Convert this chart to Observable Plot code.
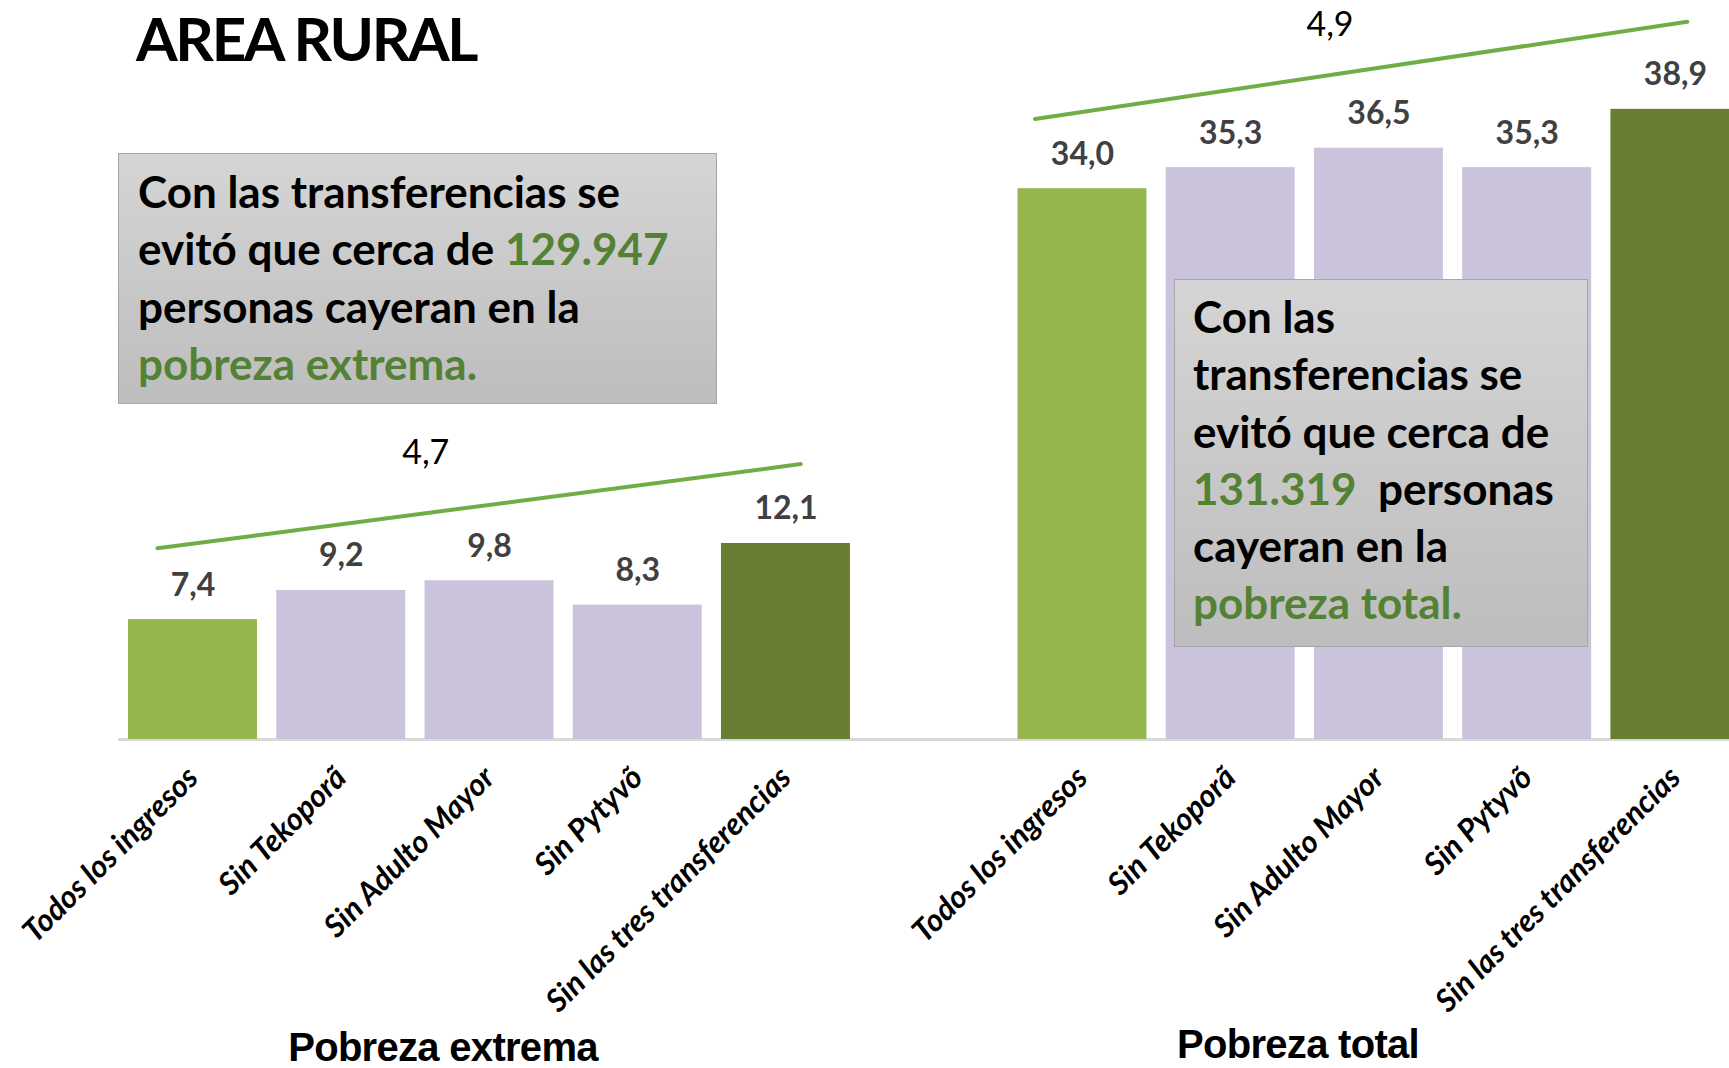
<!DOCTYPE html>
<html>
<head>
<meta charset="utf-8">
<script src="https://cdn.jsdelivr.net/npm/d3@7"></script>
<script src="https://cdn.jsdelivr.net/npm/@observablehq/plot@0.6"></script>
<style>
html, body { margin: 0; padding: 0; background: #fff; overflow: hidden; }
#wrap { position: relative; width: 1729px; height: 1068px; overflow: hidden; font-family: Lato, "Open Sans", sans-serif; }
#chart { position: absolute; left: 0; top: 0; width: 1752px; height: 1068px; }
#chart svg { max-width: none !important; width: 1752px !important; height: 1068px !important; }
.title { position: absolute; left: 136px; top: 8px; font-weight: 700; font-size: 60px; line-height: 60px; letter-spacing: -2.3px; color: #000; white-space: nowrap; }
.box { position: absolute; box-sizing: border-box; background: linear-gradient(#d5d5d5, #bdbdbd); border: 1.5px solid #a6a6a6;
       font-weight: 700; font-size: 44px; line-height: 57.3px; white-space: nowrap; color: #000; }
.green { color: #548235; }
.group { position: absolute; font-family: "Liberation Sans", Arial, sans-serif; font-weight: 700; font-size: 40px; line-height: 40px;
         letter-spacing: -0.7px; color: #000; transform: translateX(-50%); white-space: nowrap; }
</style>
</head>
<body>
<div id="wrap">
  <div id="chart"></div>
  <div class="title">AREA RURAL</div>
  <div class="box" style="left:118px; top:153px; width:599px; height:251px; padding:9px 0 0 19px;">
    Con las transferencias se<br>evitó que cerca de <span class="green">129.947</span><br>personas cayeran en la<br><span class="green">pobreza extrema.</span>
  </div>
  <div class="box" style="left:1174px; top:279px; width:414px; height:368px; padding:8px 0 0 18px;">
    Con las<br>transferencias se<br>evitó que cerca de<br><span class="green">131.319</span>&nbsp; personas<br>cayeran en la<br><span class="green">pobreza total.</span>
  </div>
  <div class="group" style="left:443px; top:1027px;">Pobreza extrema</div>
  <div class="group" style="left:1298px; top:1024px;">Pobreza total</div>
</div>
<script>
// ---- data ----
const categories = ["Todos los ingresos", "Sin Tekoporã", "Sin Adulto Mayor", "Sin Pytyvõ", "Sin las tres transferencias"];
const groups = ["Pobreza extrema", "Pobreza total"];
const extremaValues = [7.4, 9.2, 9.8, 8.3, 12.1];
const totalValues = [34.0, 35.3, 36.5, 35.3, 38.9];
const differences = [4.7, 4.9];
// trend annotation lines (x in bar-slot units, y in %)
const trendX1 = [-0.24, 5.68];
const trendY1 = [11.8, 38.3];
const trendX2 = [4.10, 10.08];
const trendY2 = [17.0, 44.3];
const diffLabelX = [1.57, 7.67];
const diffLabelY = [17.7, 44.1];

// ---- styles ----
const barColors = ["#95b64f", "#cbc3dc", "#cbc3dc", "#cbc3dc", "#687e35"];
const fmt = v => v.toFixed(1).replace(".", ",");

const rows = [];
groups.forEach((g, gi) => {
  const vals = gi === 0 ? extremaValues : totalValues;
  categories.forEach((c, ci) => rows.push({group: g, cat: c, ci, slot: gi * 6 + ci, value: vals[ci]}));
});
const trendPts = [];
groups.forEach((g, gi) => {
  trendPts.push({group: g, x: trendX1[gi], y: trendY1[gi]});
  trendPts.push({group: g, x: trendX2[gi], y: trendY2[gi]});
});
const diffRows = groups.map((g, gi) => ({group: g, x: diffLabelX[gi], y: diffLabelY[gi], v: differences[gi]}));

const chart = Plot.plot({
  width: 1752, height: 1068,
  marginLeft: 108, marginRight: 0, marginTop: 10, marginBottom: 329,
  x: {type: "linear", domain: [-0.57, 10.52], axis: null},
  y: {domain: [0, 45], axis: null},
  color: {type: "identity"},
  style: {fontFamily: "Lato, 'Open Sans', sans-serif", background: "transparent"},
  marks: [
    Plot.ruleY([0], {stroke: "#d9d9d9", strokeWidth: 3, insetLeft: 10}),
    Plot.rectY(rows, {x1: d => d.slot - 0.435, x2: d => d.slot + 0.435, y: "value", fill: d => barColors[d.ci]}),
    Plot.text(rows, {x: "slot", y: "value", text: d => fmt(d.value), lineAnchor: "bottom", dy: -24,
                     fontSize: 32, fontWeight: 700, fill: "#404040"}),
    Plot.text(rows, {x: "slot", y: 0, text: "cat", rotate: -45, textAnchor: "end", lineAnchor: "middle",
                     dx: 0, dy: 33, fontSize: 31, fontWeight: 700, fontStyle: "italic", fill: "#000"}),
    Plot.line(trendPts, {x: "x", y: "y", z: "group", stroke: "#70ad47", strokeWidth: 4}),
    Plot.text(diffRows, {x: "x", y: "y", text: d => fmt(d.v), fontSize: 34, fill: "#000"})
  ]
});
document.getElementById("chart").appendChild(chart);
</script>
</body>
</html>
